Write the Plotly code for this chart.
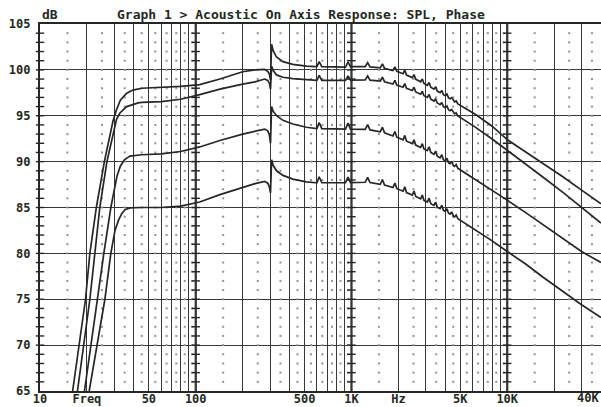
import plotly.graph_objects as go

# ---- measured response data -------------------------------------------------
# low-frequency roll-in of each curve (Hz, dB)
edge_hz_a = [16.2, 17.9, 19.6, 20.9, 23.0, 25.9, 29.4, 30.9, 32.8, 36.0, 39.5]
edge_db_a = [65, 70, 75, 80, 85, 90, 94.4, 95.6, 96.7, 97.45, 97.8]

edge_hz_b = [17.4, 19.0, 20.9, 22.5, 24.2, 26.9, 31.0, 32.6, 36.0, 42.7]
edge_db_b = [65, 70, 75, 80, 85, 90, 94.6, 95.3, 96.0, 96.4]

edge_hz_c = [19.3, 21.2, 23.5, 25.7, 28.5, 31.2, 32.8, 34.8, 37.8, 43.8]
edge_db_c = [65, 70, 75, 80, 85, 88.4, 89.5, 90.2, 90.6, 90.75]

edge_hz_d = [20.7, 23.3, 26.1, 28.5, 30.3, 31.9, 33.4, 35.1, 37.8]
edge_db_d = [65, 70, 75, 80, 82.5, 83.6, 84.3, 84.75, 84.95]

# common frequency points above the roll-in (Hz)
freq_hz = [45, 60, 80, 106, 143, 200, 240, 277, 290, 297, 302, 307, 314, 330, 363, 420, 513, 590,
           600, 620, 645, 915, 950, 985,
           1225, 1270, 1315, 1530, 1580, 1630, 1845, 1900, 1955, 2145, 2200, 2255,
           2460, 2520, 2585, 2780, 2850, 2920, 3070, 3150, 3230, 3385, 3470, 3555,
           3705, 3800, 3895, 4000, 4100, 4200, 4290, 4400, 4510, 4590, 4700, 4820,
           5500, 6300, 8000, 10000, 13000, 17000, 23000, 30000, 40000]

spl_a = [98.0, 98.1, 98.2, 98.4, 99.0, 99.8, 100.0, 100.05, 99.85, 99.55, 98.9, 102.8, 102.1, 101.4, 100.9, 100.6, 100.4, 100.35,
         100.35, 100.9, 100.35, 100.3, 100.85, 100.35,
         100.35, 100.79, 100.33, 100.22, 100.65, 100.16, 99.93, 100.33, 99.84, 99.58, 99.96, 99.43,
         99.16, 99.49, 98.99, 98.70, 99.01, 98.52, 98.32, 98.62, 98.11, 97.90, 98.15, 97.69,
         97.51, 97.75, 97.30, 97.18, 97.36, 96.95, 96.85, 96.98, 96.61, 96.52, 96.61, 96.29,
         95.70, 95.11, 93.86, 92.4, 91.1, 89.8, 88.3, 86.9, 85.4]

spl_b = [96.45, 96.55, 96.8, 97.3, 97.9, 98.45, 98.7, 99.0, 98.85, 98.55, 97.9, 100.4, 99.95, 99.45, 99.2, 99.05, 98.9, 98.85,
         98.85, 99.4, 98.85, 98.85, 99.35, 98.88,
         98.9, 99.34, 98.88, 98.77, 99.2, 98.71, 98.45, 98.85, 98.35, 98.11, 98.5, 97.98,
         97.75, 98.09, 97.6, 97.35, 97.66, 97.18, 97.0, 97.32, 96.81, 96.6, 96.85, 96.39,
         96.21, 96.45, 96.0, 95.88, 96.06, 95.65, 95.55, 95.68, 95.31, 95.22, 95.31, 94.99,
         94.36, 93.71, 92.46, 91.2, 89.8, 88.3, 86.6, 85.0, 83.3]

spl_c = [90.75, 90.85, 91.1, 91.6, 92.3, 93.0, 93.35, 93.55, 93.35, 92.95, 92.0, 96.0, 95.5, 95.0, 94.5, 94.1, 93.75, 93.65,
         93.6, 94.25, 93.6, 93.55, 94.2, 93.55,
         93.51, 94.04, 93.46, 93.24, 93.75, 93.14, 92.80, 93.28, 92.66, 92.38, 92.86, 92.23,
         91.96, 92.39, 91.80, 91.55, 91.96, 91.38, 91.20, 91.62, 91.01, 90.80, 91.15, 90.59,
         90.41, 90.75, 90.20, 90.08, 90.37, 89.87, 89.78, 90.02, 89.56, 89.48, 89.68, 89.27,
         88.66, 88.01, 86.87, 85.8, 84.5, 83.1, 81.5, 80.2, 79.0]

spl_d = [85.0, 85.0, 85.15, 85.6, 86.4, 87.2, 87.6, 87.85, 87.65, 87.25, 86.6, 90.2, 89.6, 89.0, 88.5, 88.1, 87.8, 87.7,
         87.7, 88.35, 87.7, 87.7, 88.3, 87.72,
         87.75, 88.29, 87.72, 87.53, 88.05, 87.45, 87.17, 87.66, 87.05, 86.78, 87.26, 86.63,
         86.36, 86.79, 86.20, 85.95, 86.36, 85.78, 85.60, 86.02, 85.42, 85.23, 85.59, 85.04,
         84.88, 85.23, 84.69, 84.58, 84.87, 84.37, 84.28, 84.52, 84.06, 83.98, 84.18, 83.77,
         83.16, 82.51, 81.36, 80.2, 78.9, 77.4, 75.8, 74.4, 73.0]

# axis labelling (the last label sits at the right edge and is placed separately)
tick_hz = [10, 20, 50, 100, 500, 1000, 2000, 5000, 10000]
tick_text = ["10", "Freq", "50", "100", "500", "1K", "Hz", "5K", "10K"]
edge_label = "40K"
db_ticks = [65, 70, 75, 80, 85, 90, 95, 100, 105]
title_text = "Graph 1 > Acoustic On Axis Response: SPL, Phase"
unit_text = "dB"

# ---- styling ----------------------------------------------------------------
INK = "#232823"
GRID = "#353835"
DOT = "#8f928f"
FONT = dict(family="DejaVu Sans Mono, Liberation Mono, monospace", size=13, color=INK, weight="bold")
TICK_FONT = dict(FONT, size=12)

F_MIN, F_MAX = 10, 40000
DB_MIN, DB_MAX = 65, 105

# grid frequencies: solid at every 1..9 multiple, dotted halfway between
solid_hz, dotted_hz = [], []
for decade in (10, 100, 1000, 10000):
    for m in range(1, 10):
        f = m * decade
        if F_MIN < f < F_MAX and f not in tick_hz:
            solid_hz.append(f)
        h = (m + 0.5) * decade
        if F_MIN < h < F_MAX:
            dotted_hz.append(h)
bold_hz = [100, 1000, 10000]
db_steps = list(range(DB_MIN + 1, DB_MAX))

fig = go.Figure()

# dotted half-step grid
dot_x = [f for f in dotted_hz for _ in db_steps]
dot_y = [d for _ in dotted_hz for d in db_steps]
fig.add_trace(go.Scatter(x=dot_x, y=dot_y, mode="markers",
                         marker=dict(symbol="square", size=2, color=DOT, line=dict(width=0)),
                         hoverinfo="skip", showlegend=False))

# cross ticks along the left axis and the decade lines
tick_x = [f for f in [F_MIN] + bold_hz for _ in db_steps]
tick_y = [d for _ in [F_MIN] + bold_hz for d in db_steps]
fig.add_trace(go.Scatter(x=tick_x, y=tick_y, mode="markers", cliponaxis=False,
                         marker=dict(symbol="line-ew", size=6, line=dict(width=1.4, color=INK)),
                         hoverinfo="skip", showlegend=False))

# response curves
curves = [
    (edge_hz_a, edge_db_a, spl_a),
    (edge_hz_b, edge_db_b, spl_b),
    (edge_hz_c, edge_db_c, spl_c),
    (edge_hz_d, edge_db_d, spl_d),
]
for edge_hz, edge_db, spl in curves:
    fig.add_trace(go.Scatter(x=edge_hz + freq_hz, y=edge_db + spl, mode="lines",
                             line=dict(color=INK, width=1.7),
                             hoverinfo="skip", showlegend=False))

# heavier decade lines
for f in bold_hz:
    fig.add_shape(type="line", xref="x", yref="paper", x0=f, x1=f, y0=0, y1=1,
                  line=dict(color=INK, width=2.2), layer="below")

fig.add_annotation(text=title_text, xref="paper", yref="paper", x=0.465, y=1.0, yshift=10,
                   xanchor="center", yanchor="middle", showarrow=False, font=FONT)
fig.add_annotation(text=unit_text, xref="paper", yref="paper", x=0.0, y=1.0, yshift=10,
                   xanchor="left", yanchor="middle", showarrow=False, font=FONT)
fig.add_annotation(text=edge_label, xref="paper", yref="paper", x=1.0, y=0.0, yshift=-7,
                   xanchor="right", yanchor="middle", showarrow=False, font=TICK_FONT)

fig.update_layout(
    width=601, height=407,
    margin=dict(l=40, r=0, t=24, b=16, autoexpand=False),
    paper_bgcolor="white", plot_bgcolor="white",
    showlegend=False,
    xaxis=dict(type="log", range=[1, 4.6021], automargin=False,
               tickmode="array", tickvals=tick_hz, ticktext=tick_text,
               tickfont=TICK_FONT, ticks="", ticklabelstandoff=-5,
               showgrid=True, gridcolor=GRID, gridwidth=1.3,
               minor=dict(tickmode="array", tickvals=solid_hz, showgrid=True,
                          gridcolor=GRID, gridwidth=1.3, ticks=""),
               showline=True, linecolor=INK, linewidth=2.2, mirror=True,
               zeroline=False, fixedrange=True),
    yaxis=dict(range=[DB_MIN, DB_MAX], tickmode="array", tickvals=db_ticks, automargin=False,
               tickfont=TICK_FONT, ticks="", ticklabelstandoff=5,
               showgrid=True, gridcolor=GRID, gridwidth=1.3,
               showline=True, linecolor=INK, linewidth=2.2, mirror=False,
               zeroline=False, fixedrange=True),
)

fig.write_html("out.html")
